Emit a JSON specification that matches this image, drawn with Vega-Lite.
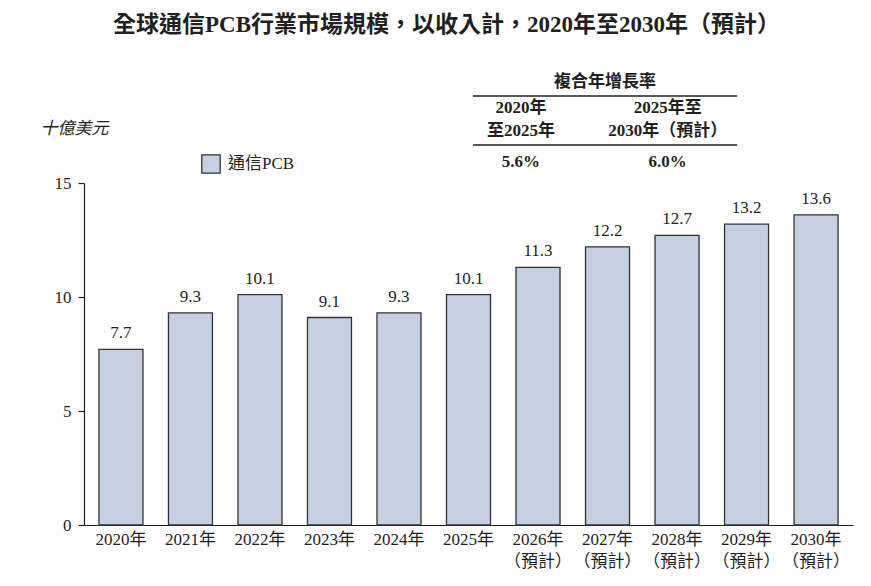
{
  "$schema": "https://vega.github.io/schema/vega-lite/v6.json",
  "width": 769,
  "height": 342,
  "autosize": {"type": "none"},
  "padding": {"left": 84, "top": 183, "right": 18, "bottom": 61},
  "background": "white",
  "title": {
    "text": "全球通信PCB行業市場規模，以收入計，2020年至2030年（預計）",
    "font": "Liberation Serif, Noto Sans CJK TC",
    "fontSize": 23,
    "fontWeight": "bold",
    "color": "#231f20",
    "anchor": "middle",
    "frame": "group",
    "dx": -22,
    "offset": 36
  },
  "config": {
    "view": {"stroke": null},
    "font": "Liberation Serif, Noto Sans CJK TC",
    "axis": {"labelFont": "Liberation Serif, Noto Sans CJK TC", "titleFont": "Liberation Serif, Noto Sans CJK TC", "labelColor": "#231f20", "domainColor": "#231f20", "tickColor": "#231f20"},
    "legend": {"labelFont": "Liberation Serif, Noto Sans CJK TC"}
  },
  "datasets": {
    "bars": [
      {"year": "2020年", "series": "通信PCB", "value": 7.7},
      {"year": "2021年", "series": "通信PCB", "value": 9.3},
      {"year": "2022年", "series": "通信PCB", "value": 10.1},
      {"year": "2023年", "series": "通信PCB", "value": 9.1},
      {"year": "2024年", "series": "通信PCB", "value": 9.3},
      {"year": "2025年", "series": "通信PCB", "value": 10.1},
      {"year": "2026年|（預計）", "series": "通信PCB", "value": 11.3},
      {"year": "2027年|（預計）", "series": "通信PCB", "value": 12.2},
      {"year": "2028年|（預計）", "series": "通信PCB", "value": 12.7},
      {"year": "2029年|（預計）", "series": "通信PCB", "value": 13.2},
      {"year": "2030年|（預計）", "series": "通信PCB", "value": 13.6}
    ],
    "tableText": [
      {"pos": 2026.96, "ypos": 19.43, "text": "複合年增長率"},
      {"pos": 2025.75, "ypos": 18.29, "text": "2020年"},
      {"pos": 2025.75, "ypos": 17.28, "text": "至2025年"},
      {"pos": 2027.86, "ypos": 18.29, "text": "2025年至"},
      {"pos": 2027.86, "ypos": 17.28, "text": "2030年（預計）"},
      {"pos": 2025.75, "ypos": 15.92, "text": "5.6%"},
      {"pos": 2027.86, "ypos": 15.92, "text": "6.0%"}
    ],
    "tableRules": [
      {"start": 2025.06, "end": 2028.86, "ypos": 18.82},
      {"start": 2025.06, "end": 2028.86, "ypos": 16.67}
    ]
  },
  "layer": [
    {
      "data": {"name": "bars"},
      "encoding": {
        "x": {
          "field": "year",
          "type": "nominal",
          "sort": null,
          "scale": {"paddingInner": 0.367, "paddingOuter": 0.215},
          "axis": {
            "title": null,
            "labelAngle": 0,
            "labelExpr": "split(datum.value, '|')",
            "labelFontSize": 17,
            "labelLineHeight": 22,
            "ticks": false,
            "labelPadding": 6,
            "domainWidth": 1.2
          }
        },
        "y": {
          "field": "value",
          "type": "quantitative",
          "scale": {"domain": [0, 15]},
          "axis": {
            "values": [0, 5, 10, 15],
            "grid": false,
            "labelFontSize": 17,
            "tickSize": 6,
            "tickWidth": 1.2,
            "domainWidth": 1.2,
            "labelPadding": 7,
            "title": "十億美元",
            "titleAngle": 0,
            "titleAlign": "left",
            "titleBaseline": "middle",
            "titleX": -44,
            "titleY": -55,
            "titleFontSize": 17,
            "titleFontStyle": "italic",
            "titleFontWeight": "normal",
            "titleColor": "#231f20"
          }
        }
      },
      "layer": [
        {
          "mark": {"type": "bar", "stroke": "#333333", "strokeWidth": 1.3},
          "encoding": {
            "fill": {
              "field": "series",
              "type": "nominal",
              "scale": {"range": ["#c5d0e3"]},
              "legend": {
                "title": null,
                "orient": "none",
                "legendX": 117,
                "legendY": -29,
                "padding": 0,
                "symbolType": "square",
                "symbolSize": 340,
                "symbolStrokeColor": "#333333",
                "symbolStrokeWidth": 1.3,
                "labelFontSize": 17,
                "labelColor": "#231f20",
                "labelOffset": 7
              }
            }
          }
        },
        {
          "mark": {"type": "text", "baseline": "alphabetic", "dy": -11, "fontSize": 17, "color": "#231f20"},
          "encoding": {"text": {"field": "value", "type": "quantitative", "format": ".1f"}}
        }
      ]
    },
    {
      "layer": [
        {
          "data": {"name": "tableText"},
          "mark": {"type": "text", "fontSize": 17, "fontWeight": "bold", "color": "#231f20", "baseline": "middle"},
          "encoding": {
            "x": {"field": "pos", "type": "quantitative", "scale": {"domain": [2019.468, 2030.525]}, "axis": null},
            "y": {"field": "ypos", "type": "quantitative", "scale": {"domain": [0, 15]}, "axis": null},
            "text": {"field": "text"}
          }
        },
        {
          "data": {"name": "tableRules"},
          "mark": {"type": "rule", "color": "#231f20", "strokeWidth": 1.5},
          "encoding": {
            "x": {"field": "start", "type": "quantitative", "scale": {"domain": [2019.468, 2030.525]}, "axis": null},
            "x2": {"field": "end"},
            "y": {"field": "ypos", "type": "quantitative", "scale": {"domain": [0, 15]}, "axis": null}
          }
        }
      ]
    }
  ],
  "resolve": {"scale": {"x": "independent", "y": "independent"}}
}
